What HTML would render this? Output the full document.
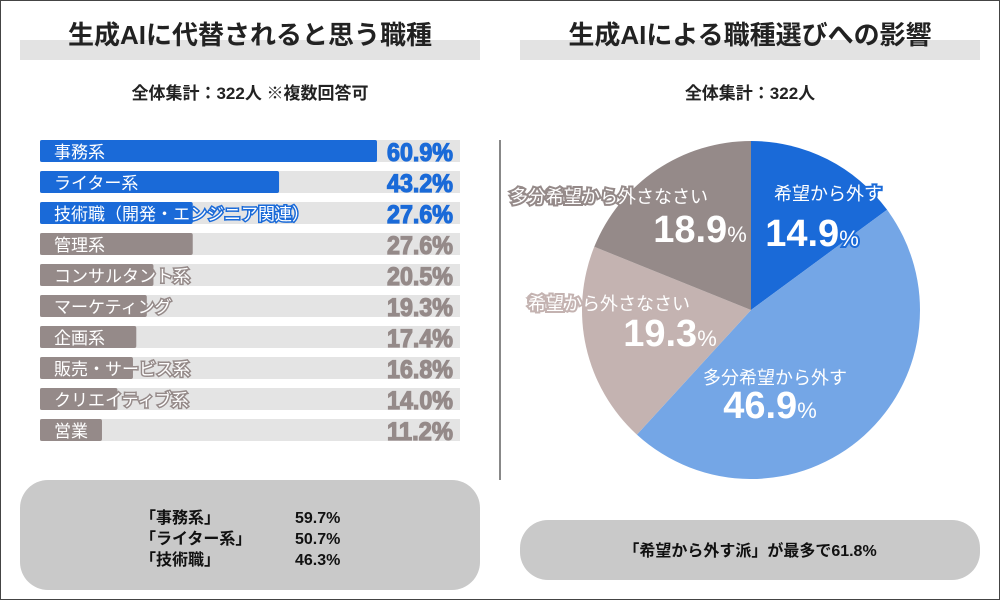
<!DOCTYPE html>
<html><head><meta charset="utf-8">
<style>
body{margin:0;background:#fff;}
svg{display:block;font-family:"Liberation Sans","Noto Sans CJK JP",sans-serif;}
</style></head>
<body>
<svg id="chart" width="1000" height="600" viewBox="0 0 1000 600">
<rect x="0.5" y="0.5" width="999" height="599" fill="#fff" stroke="#444"/>
<rect x="20" y="40" width="460" height="20" fill="#e3e3e3"/>
<rect x="520" y="40" width="460" height="20" fill="#e3e3e3"/>
<text x="250" y="44" text-anchor="middle" font-size="26" font-weight="bold" fill="#222">生成AIに代替されると思う職種</text>
<text x="750" y="44" text-anchor="middle" font-size="26" font-weight="bold" fill="#222">生成AIによる職種選びへの影響</text>
<text x="250" y="99" text-anchor="middle" font-size="17" font-weight="bold" fill="#222">全体集計：322人 ※複数回答可</text>
<text x="750" y="99" text-anchor="middle" font-size="17" font-weight="bold" fill="#222">全体集計：322人</text>
<line x1="500" y1="140" x2="500" y2="480" stroke="#888" stroke-width="2"/>
<g id="bars"></g>
<g id="pie"></g>
<g id="pielabels"></g>
<rect x="20" y="480" width="460" height="110" rx="28" fill="#c9c9c9"/>
<g font-size="16" fill="#111" font-weight="bold">
<text x="140" y="523">「事務系」</text><text x="295" y="523">59.7%</text>
<text x="140" y="544">「ライター系」</text><text x="295" y="544">50.7%</text>
<text x="140" y="565">「技術職」</text><text x="295" y="565">46.3%</text>
</g>
<rect x="520" y="520" width="460" height="60" rx="28" fill="#c9c9c9"/>
<text x="750" y="556" text-anchor="middle" font-size="16" font-weight="bold" fill="#111">「希望から外す派」が最多で61.8%</text>
</svg>
<script>
const categories=["事務系","ライター系","技術職（開発・エンジニア関連）","管理系","コンサルタント系","マーケティング","企画系","販売・サービス系","クリエイティブ系","営業"];
const values=[60.9,43.2,27.6,27.6,20.5,19.3,17.4,16.8,14.0,11.2];
const highlightCount=3;
const pieLabels=["希望から外す","多分希望から外す","希望から外さなさい","多分希望から外さなさい"];
const pieValues=[14.9,46.9,19.3,18.9];
const pieColors=["#1a6ad8","#74a6e6","#c4b3b1","#958a89"];

const NS="http://www.w3.org/2000/svg";
function mk(tag,attrs,parent){const e=document.createElementNS(NS,tag);for(const k in attrs)e.setAttribute(k,attrs[k]);parent.appendChild(e);return e;}
const bars=document.getElementById('bars');
const x0=40,trackW=420,pxPer=337/60.9,y0=140,step=31,bh=22;
const xs=v=>v*pxPer;
categories.forEach((c,i)=>{
  const y=y0+i*step, hl=i<highlightCount, col=hl?'#1a6ad8':'#958a89';
  const t=mk('rect',{x:x0,y:y,width:trackW,height:bh,fill:'#e4e4e4'},bars);
  
  
  const b=mk('rect',{x:x0,y:y,width:xs(values[i]),height:bh,rx:2,fill:col},bars);
  
  
  const l=mk('text',{x:x0+14,y:y+18,'font-size':17,fill:'#fff',stroke:col,'stroke-width':3,'paint-order':'stroke'},bars);
  l.textContent=c;
  
  
  const v=mk('text',{x:453,y:y+21,'text-anchor':'end','font-size':25,'font-weight':'bold',fill:col,stroke:col,'stroke-width':1.2,textLength:66,lengthAdjust:'spacingAndGlyphs'},bars);
  v.textContent=values[i].toFixed(1)+'%';
  
  
});
const pie=document.getElementById('pie');
const pl=document.getElementById('pielabels');
const cx=751,cy=310,r=169;
const total=pieValues.reduce((a,b)=>a+b,0);
let a=-Math.PI/2;
const labelPos=[[828,200,812,246],[775,384,770,418],[609,310,670,346],[609,203,700,242]];
pieValues.forEach((v,i)=>{
  const a2=a+v/total*2*Math.PI;
  const x1=cx+r*Math.cos(a),y1=cy+r*Math.sin(a),x2=cx+r*Math.cos(a2),y2=cy+r*Math.sin(a2);
  const large=(a2-a)>Math.PI?1:0;
  const p=mk('path',{d:`M${cx},${cy}L${x1},${y1}A${r},${r} 0 ${large} 1 ${x2},${y2}Z`,fill:pieColors[i]},pie);
  
  
  a=a2;
  const lp=labelPos[i];
  const t=mk('text',{x:lp[0],y:lp[1],'text-anchor':'middle','font-size':18,fill:'#fff',stroke:pieColors[i],'stroke-width':4,'paint-order':'stroke'},pl);
  t.textContent=pieLabels[i];
  
  
  const n=mk('text',{x:lp[2],y:lp[3],'text-anchor':'middle',fill:'#fff',stroke:pieColors[i],'stroke-width':4,'paint-order':'stroke','font-weight':'bold'},pl);
  const s1=mk('tspan',{'font-size':38},n);s1.textContent=v.toFixed(1);
  const s2=mk('tspan',{'font-size':22,'font-weight':'normal'},n);s2.textContent='%';
  
  
});
</script>
</body></html>
